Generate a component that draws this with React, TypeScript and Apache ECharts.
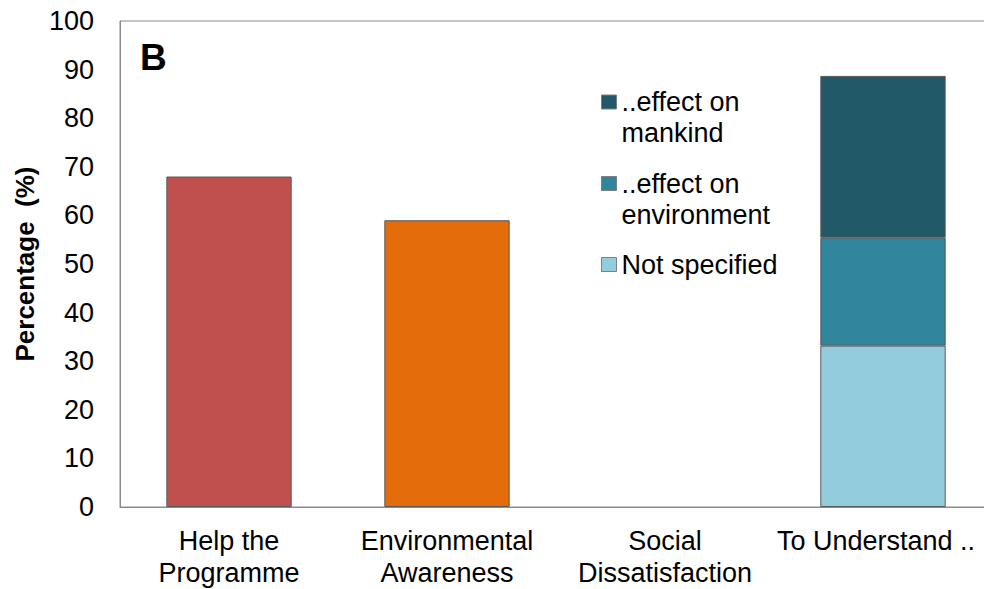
import React, { useEffect, useRef } from "react";
import * as echarts from "echarts";

const categories = ["Help the\nProgramme", "Environmental\nAwareness", "Social\nDissatisfaction", "To Understand .."];
const helpValues = [68.0, null, null, null];
const awarenessValues = [null, 59.0, null, null];
const notSpecifiedValues = [null, null, null, 33.2];
const environmentValues = [null, null, null, 22.2];
const mankindValues = [null, null, null, 33.3];
const yTicks = [0, 10, 20, 30, 40, 50, 60, 70, 80, 90, 100];

const FONT = "'Liberation Sans', Arial, sans-serif";
const BORDER = "#5a5a5a";

export default function App() {
  const ref = useRef<HTMLDivElement>(null);
  useEffect(() => {
    if (!ref.current) return;
    const chart = echarts.init(ref.current, null, { renderer: "svg" });
    const legendBase = {
      orient: "vertical",
      left: 601,
      padding: 0,
      itemWidth: 15,
      itemHeight: 14,
      icon: "rect",
      itemStyle: { borderColor: "#7f7f7f", borderWidth: 1 },
      textStyle: { fontFamily: FONT, fontSize: 27, color: "#000", lineHeight: 31 },
      selectedMode: false,
      formatter: (name: string) => (name.indexOf("\n") >= 0 ? "\n" + name : name),
    };
    const xData = categories.map((c, i) =>
      i === categories.length - 1 ? { value: c, textStyle: { padding: [0, 14, 0, 0] } } : c
    );
    chart.setOption({
      animation: false,
      textStyle: { fontFamily: FONT },
      grid: {
        left: 120,
        top: 21,
        width: 872,
        height: 486,
        show: true,
        borderColor: "#8a8a8a",
        borderWidth: 1,
        containLabel: false,
        outerBoundsMode: "none",
      },
      graphic: [
        {
          type: "text",
          left: 140,
          top: 39,
          style: {
            text: "B",
            fontFamily: FONT,
            fontSize: 37,
            fontWeight: "bold",
            fill: "#000",
          },
        },
      ],
      legend: [
        { ...legendBase, top: 55.5, data: ["..effect on\nmankind"] },
        { ...legendBase, top: 137, data: ["..effect on\nenvironment"] },
        { ...legendBase, top: 249, data: ["Not specified"] },
      ],
      xAxis: {
        type: "category",
        data: xData,
        axisLine: { show: true, lineStyle: { color: "#8a8a8a" } },
        axisTick: { show: false },
        axisLabel: {
          interval: 0,
          fontFamily: FONT,
          fontSize: 27,
          lineHeight: 32,
          color: "#000",
          margin: 18,
          hideOverlap: false,
        },
      },
      yAxis: {
        type: "value",
        min: yTicks[0],
        max: yTicks[yTicks.length - 1],
        interval: 10,
        name: "Percentage  (%)",
        nameLocation: "middle",
        nameGap: 78,
        nameTextStyle: { fontFamily: FONT, fontSize: 26, fontWeight: "bold", color: "#000" },
        axisLine: { show: true, lineStyle: { color: "#8a8a8a" } },
        axisTick: { show: false },
        splitLine: { show: false },
        axisLabel: { fontFamily: FONT, fontSize: 27, color: "#000", margin: 26 },
      },
      series: [
        {
          name: "Help the Programme",
          type: "bar",
          stack: "total",
          barWidth: "57.5%",
          data: helpValues,
          itemStyle: { color: "#c0504d", borderColor: BORDER, borderWidth: 1 },
        },
        {
          name: "Environmental Awareness",
          type: "bar",
          stack: "total",
          data: awarenessValues,
          itemStyle: { color: "#e46c0a", borderColor: BORDER, borderWidth: 1 },
        },
        {
          name: "Not specified",
          type: "bar",
          stack: "total",
          data: notSpecifiedValues,
          itemStyle: { color: "#93cddd", borderColor: BORDER, borderWidth: 1 },
        },
        {
          name: "..effect on\nenvironment",
          type: "bar",
          stack: "total",
          data: environmentValues,
          itemStyle: { color: "#31859c", borderColor: BORDER, borderWidth: 1 },
        },
        {
          name: "..effect on\nmankind",
          type: "bar",
          stack: "total",
          data: mankindValues,
          itemStyle: { color: "#215968", borderColor: BORDER, borderWidth: 1 },
        },
      ],
    });
    return () => chart.dispose();
  }, []);
  return (
    <div
      ref={ref}
      style={{ position: "fixed", left: 0, top: 0, width: 984, height: 589, background: "#fff" }}
    />
  );
}
